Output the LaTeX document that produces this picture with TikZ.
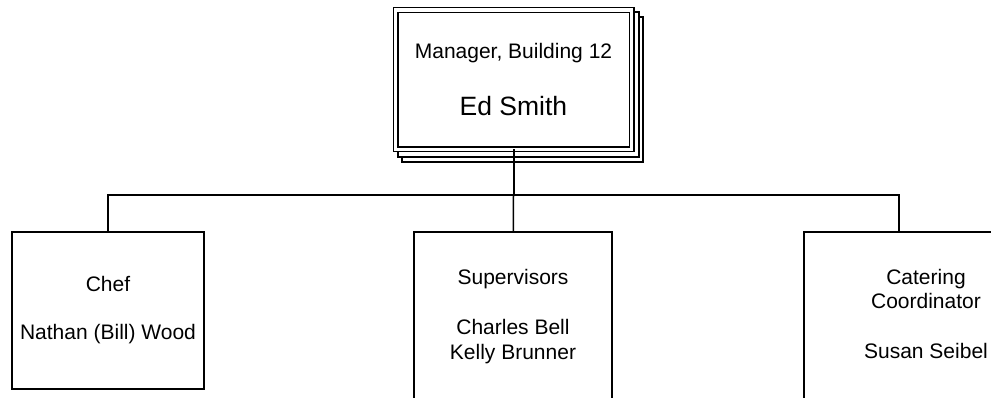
\documentclass[tikz,border=0pt]{standalone}
\usepackage{fontspec}
\setmainfont{Liberation Sans}
\usetikzlibrary{positioning}
\tikzstyle{post}=[draw,line width=1.5pt,fill=white,align=center,inner sep=0pt,outer sep=0pt,font=\fontsize{21}{25}\selectfont]
\tikzstyle{boss}=[post,double,line width=1.3pt,double distance=3.4pt,minimum width=236pt,minimum height=139.5pt]
\tikzstyle{bosscopy}=[draw,line width=1.3pt,fill=white,minimum width=241pt,minimum height=145pt,inner sep=0pt,outer sep=0pt]
\tikzstyle{edge}=[draw,line width=1.5pt]

\begin{document}
\begin{tikzpicture}[x=1pt,y=-1pt]
    \useasboundingbox (0,0) rectangle (991,398);

    % First the stacked copies behind the manager box
    \node[bosscopy] (bosscopyB) at (522.5,89.5) {};
    \node[bosscopy] (bosscopyA) at (518.5,84.5) {};
    \node[boss] (boss) at (513.5,79.75) {Manager, Building 12\\[32pt]{\fontsize{26.5}{30}\selectfont Ed Smith}};

    % Then the staff boxes (the two on the right run off the page)
    \foreach \pos/\name/\w/\h/\d/\label in {{(108,310.5)/chef/192/157/4.4/{Chef\\[23pt]Nathan (Bill) Wood}}, {(513,332)/sup/198/200/34.5/{Supervisors\\[25pt]Charles Bell\\Kelly Brunner}}, {(926,332)/cater/244/200/36.3/{Catering\\[-1pt]Coordinator\\[25pt]Susan Seibel}}}
        \node[post,minimum width=\w pt,minimum height=\h pt,text depth=\d pt] (\name) at \pos {\label};

    % Connect the boxes
    \coordinate (bus) at (513.5,195);
    \coordinate (catertop) at (899,232);
    \path[edge,line width=2pt] (boss) -- (bus);
    \path[edge] (bus) -- (sup);
    \path[edge] (chef.north) |- (bus) -| (catertop);

\end{tikzpicture}
\end{document}
